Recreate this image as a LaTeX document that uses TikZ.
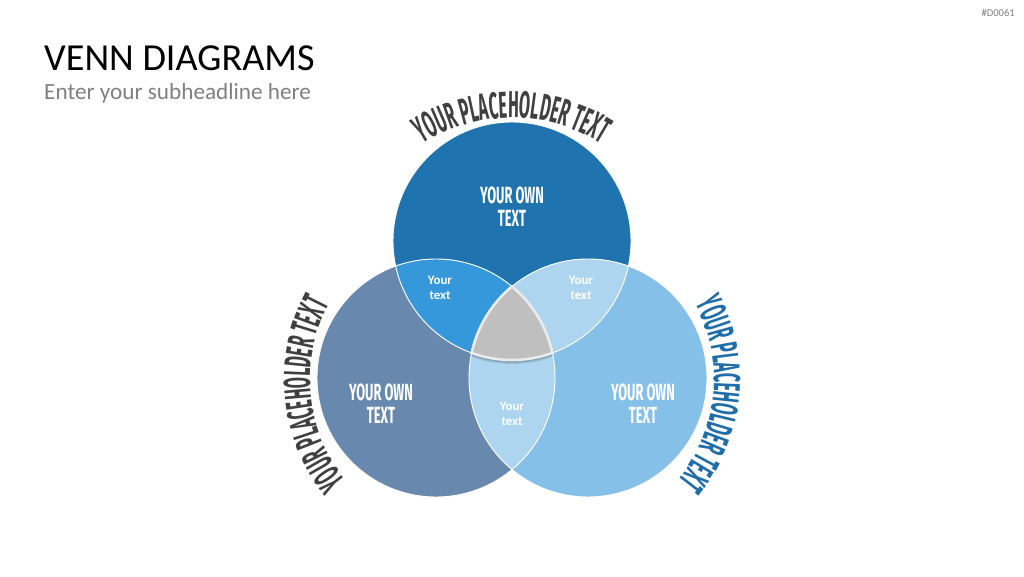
\documentclass[tikz,border=0pt]{standalone}
\usepackage{fontspec}
\setmainfont{Carlito}
\newfontfamily\bebas[FakeStretch=0.55]{Fira Sans}
\newfontfamily\bebaslab[FakeStretch=0.43]{Fira Sans}
\usetikzlibrary{decorations.text}
\definecolor{ctop}{RGB}{31,115,174}
\definecolor{cleft}{RGB}{104,137,173}
\definecolor{cright}{RGB}{133,192,232}
\definecolor{ctl}{RGB}{53,152,219}
\definecolor{clight}{RGB}{173,213,240}
\definecolor{cgray}{RGB}{191,191,191}
\definecolor{labgray}{RGB}{64,64,64}
\definecolor{labblue}{RGB}{31,110,170}
\definecolor{subgray}{RGB}{128,128,128}
\tikzset{
  owntext/.style={text=white,align=center,inner sep=0pt,font=\bebas\bfseries\fontsize{20}{19.6}\selectfont},
  smalltext/.style={text=white,align=center,inner sep=0pt,font=\bfseries\fontsize{11}{12.8}\selectfont},
  outline/.style={draw=white,line width=0.8pt},
}
\newcommand{\labfont}{\bebaslab\bfseries\fontsize{32}{32}\selectfont}
\begin{document}
\begin{tikzpicture}[x=0.03cm,y=0.03cm]
\useasboundingbox (0,0) rectangle (1024,576);
\fill[white] (0,0) rectangle (1024,576);
\coordinate (T) at (512,335);
\coordinate (L) at (436,198);
\coordinate (R) at (588,198);
% base circles
\fill[ctop] (T) circle (119);
\fill[cleft] (L) circle (119);
\fill[cright] (R) circle (119);
% pairwise overlaps
\begin{scope}
  \clip (T) circle (119);
  \fill[ctl] (L) circle (119);
\end{scope}
\begin{scope}
  \clip (T) circle (119);
  \fill[clight] (R) circle (119);
\end{scope}
\begin{scope}
  \clip (L) circle (119);
  \fill[clight] (R) circle (119);
\end{scope}
% outlines
\draw[outline] (T) circle (119);
\draw[outline] (L) circle (119);
\draw[outline] (R) circle (119);
% triple overlap
\coordinate (B) at (471.67,223.04);
\fill[black,opacity=0.12] ([yshift=-4*0.03cm]B) arc[start angle=-109.81,end angle=-70.19,radius=119]
   arc[start angle=12.15,end angle=50.31,radius=119]
   arc[start angle=129.69,end angle=167.85,radius=119] -- cycle;
\fill[black,opacity=0.15] ([yshift=-2.5*0.03cm]B) arc[start angle=-109.81,end angle=-70.19,radius=119]
   arc[start angle=12.15,end angle=50.31,radius=119]
   arc[start angle=129.69,end angle=167.85,radius=119] -- cycle;
\filldraw[fill=cgray,draw=white!92!black,line width=2.2pt] (B) arc[start angle=-109.81,end angle=-70.19,radius=119]
   arc[start angle=12.15,end angle=50.31,radius=119]
   arc[start angle=129.69,end angle=167.85,radius=119] -- cycle;
% texts in circles
\node[owntext] (tT) at (512,369) {YOUR OWN\\TEXT};
\node[owntext] (tL) at (381,172) {YOUR OWN\\TEXT};
\node[owntext] (tR) at (643,172) {YOUR OWN\\TEXT};
\node[smalltext] (sTL) at (440,288) {Your\\text};
\node[smalltext] (sTR) at (581,288) {Your\\text};
\node[smalltext] (sB) at (512,162) {Your\\text};
% curved labels
\coordinate (cTop) at (512,290);
\coordinate (cLeft) at (470,196.5);
\coordinate (cRight) at (554,196.5);
\path[decorate,decoration={text along path,text align=center,
  text={|\labfont\color{labgray}|YOUR PLACEHOLDER TEXT}}]
  (cTop) ++(160:168) arc[start angle=160,end angle=20,radius=168];
\path[decorate,decoration={text along path,text align=center,
  text={|\labfont\color{labgray}|YOUR PLACEHOLDER TEXT}}]
  (cLeft) ++(245.5:160) arc[start angle=245.5,end angle=125.5,radius=160];
\path[decorate,decoration={text along path,text align=center,
  text={|\labfont\color{labblue}|YOUR PLACEHOLDER TEXT}}]
  (cRight) ++(54.5:160) arc[start angle=54.5,end angle=-65.5,radius=160];
% headings
\node[anchor=base west,inner sep=0pt,font=\fontsize{32.6}{36}\selectfont] (title) at (44,505) {VENN DIAGRAMS};
\node[anchor=base west,inner sep=0pt,font=\fontsize{19.8}{22}\selectfont,text=subgray] (sub) at (44,476) {Enter your subheadline here};
\node[anchor=base east,inner sep=0pt,font=\fontsize{9}{10}\selectfont,text=subgray] (code) at (1015,559) {\#D0061};
\end{tikzpicture}
\end{document}
